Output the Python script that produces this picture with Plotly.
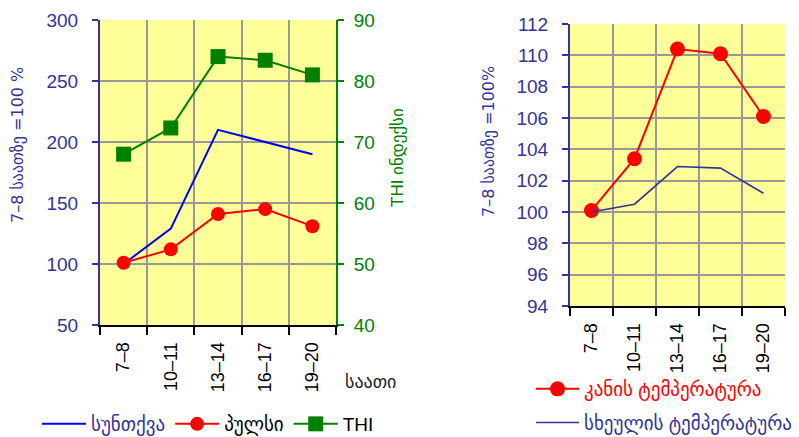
import plotly.graph_objects as go

hours = ["7–8", "10–11", "13–14", "16–17", "19–20"]
breathing = [100, 129, 210, 200, 190]
pulse = [101, 112, 141, 145, 131]
thi = [68, 72.3, 84, 83.4, 81]
skin_temp = [100.1, 103.4, 110.4, 110.1, 106.1]
body_temp = [100.0, 100.5, 102.9, 102.8, 101.2]

FONT = "Liberation Sans, Arial, DejaVu Sans, sans-serif"
TFONT = "DejaVu Sans, sans-serif"
NAVY = "#333399"
GREEN = "#008000"
RED = "#ff0000"
BLUE = "#0000ff"
GRID = "#999999"
BG = "#ffff99"

fig = go.Figure()

fig.add_trace(go.Scatter(x=hours, y=breathing, mode="lines", line=dict(color=BLUE, width=2),
                         name=f"<span style='color:{NAVY}'>სუნთქვა</span>",
                         xaxis="x", yaxis="y", legend="legend"))
fig.add_trace(go.Scatter(x=hours, y=pulse, mode="lines+markers", line=dict(color=RED, width=2),
                         marker=dict(color=RED, size=14, symbol="circle"),
                         name="პულსი", xaxis="x", yaxis="y", legend="legend"))
fig.add_trace(go.Scatter(x=hours, y=thi, mode="lines+markers", line=dict(color=GREEN, width=2),
                         marker=dict(color=GREEN, size=15, symbol="square"),
                         name="THI", xaxis="x", yaxis="y2", legend="legend"))

fig.add_trace(go.Scatter(x=hours, y=skin_temp, mode="lines+markers", line=dict(color=RED, width=2),
                         marker=dict(color=RED, size=15, symbol="circle"),
                         name=f"<span style='color:{RED}'>კანის ტემპერატურა</span>",
                         xaxis="x2", yaxis="y3", legend="legend2", legendgroup="a"))
fig.add_trace(go.Scatter(x=hours, y=body_temp, mode="lines", line=dict(color=NAVY, width=1.6),
                         name=f"<span style='color:{NAVY}'>სხეულის ტემპერატურა</span>",
                         xaxis="x2", yaxis="y3", legend="legend2", legendgroup="b"))

W, H = 799, 437
def px(x): return x / W
def py(y): return 1 - y / H

xcommon = dict(type="category", range=[-0.5, 4.5], tickson="boundaries", showgrid=True,
               gridcolor=GRID, gridwidth=2, showline=True, linecolor="black", linewidth=2,
               ticks="outside", ticklen=8, tickwidth=2, tickcolor="black", tickangle=-90,
               ticklabelstandoff=8, automargin=False,
               tickfont=dict(size=18, color="black", family=FONT), zeroline=False, fixedrange=True)

ycommon = dict(showgrid=True, gridcolor=GRID, gridwidth=2, showline=True, linecolor=NAVY,
               linewidth=2, ticks="outside", ticklen=6, tickwidth=2, tickcolor=NAVY,
               ticklabelstandoff=10, automargin=False,
               tickfont=dict(size=19, color=NAVY), zeroline=False)

fig.update_layout(
    width=W, height=H, margin=dict(l=0, r=0, t=0, b=0, autoexpand=False),
    paper_bgcolor="white", plot_bgcolor=BG,
    font=dict(family=FONT, size=18),
    xaxis=dict(domain=[px(100), px(336)], anchor="y", **xcommon),
    yaxis=dict(domain=[py(325), py(20)], anchor="x", range=[50, 300], dtick=50, **ycommon),
    yaxis2=dict(overlaying="y", side="right", anchor="x", range=[40, 90], dtick=10, showgrid=False,
                showline=True, linecolor=GREEN, linewidth=2, ticks="outside", ticklen=6, tickwidth=2,
                tickcolor=GREEN, ticklabelstandoff=6, automargin=False,
                tickfont=dict(size=19, color=GREEN), zeroline=False),
    xaxis2=dict(domain=[px(570), px(785)], anchor="y3", **xcommon),
    yaxis3=dict(domain=[py(306), py(24)], anchor="x2", range=[94, 112], dtick=2, **ycommon),
    legend=dict(orientation="h", x=px(37), y=py(424), xanchor="left", yanchor="middle",
                font=dict(size=19, color="black"), bgcolor="rgba(0,0,0,0)", itemwidth=44),
    legend2=dict(orientation="v", x=px(531), y=py(406), xanchor="left", yanchor="middle",
                 font=dict(size=19, color="black"), bgcolor="rgba(0,0,0,0)", tracegroupgap=6,
                 itemwidth=43),
    showlegend=True,
    annotations=[
        dict(text="7–8 საათზე =100 %", x=px(18), y=py(145), xref="paper", yref="paper",
             xanchor="center", yanchor="middle",
             textangle=-90, showarrow=False, font=dict(size=16, color=NAVY, family=TFONT)),
        dict(text="THI ინდექსი", x=px(398), y=py(158), xref="paper", yref="paper",
             xanchor="center", yanchor="middle",
             textangle=-90, showarrow=False, font=dict(size=17, color=GREEN)),
        dict(text="საათი", x=px(343), y=py(382), xref="paper", yref="paper", xanchor="left",
             yanchor="middle", showarrow=False, font=dict(size=18, color="#222222")),
        dict(text="7–8 საათზე =100%", x=px(488), y=py(142), xref="paper", yref="paper",
             xanchor="center", yanchor="middle",
             textangle=-90, showarrow=False, font=dict(size=16, color=NAVY, family=TFONT)),
    ],
)

fig.write_html("out.html")
